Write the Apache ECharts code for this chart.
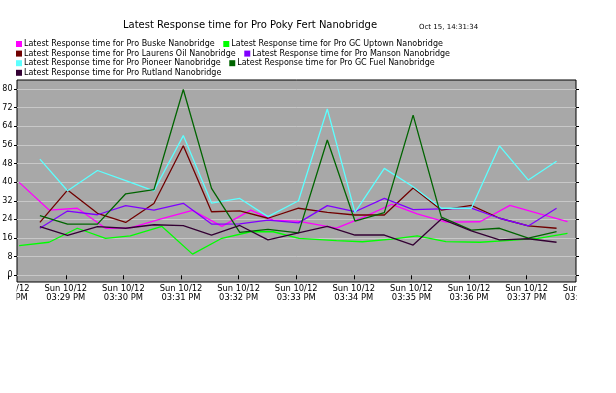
<!DOCTYPE html>
<html><head><meta charset="utf-8">
<script src="https://cdn.jsdelivr.net/npm/echarts@6/dist/echarts.min.js"></script>
<style>html,body{margin:0;padding:0;background:#fff}#c{width:616px;height:393px}</style>
</head><body><div id="c"></div>
<script>
const titleText = 'Latest Response time for Pro Poky Fert Nanobridge';
const dateText = 'Oct 15, 14:31:34';
const seriesNames = [
  'Latest Response time for Pro Buske Nanobridge',
  'Latest Response time for Pro GC Uptown Nanobridge',
  'Latest Response time for Pro Laurens Oil Nanobridge',
  'Latest Response time for Pro Manson Nanobridge',
  'Latest Response time for Pro Pioneer Nanobridge',
  'Latest Response time for Pro GC Fuel Nanobridge',
  'Latest Response time for Pro Rutland Nanobridge'
];
// sample times in minutes after 15:00 (03:xx PM)
const timesA = [28.19, 28.71, 29.2, 29.69, 30.12, 30.67, 31.2, 31.71, 32.21, 32.6, 33.05, 33.7, 34.15, 34.66, 35.1, 35.6, 36.19, 36.71, 37.2, 37.71];
const timesB = [28.55, 29.03, 29.55, 30.04, 30.53, 31.04, 31.53, 32.02, 32.51, 33.04, 33.54, 34.02, 34.53, 35.03, 35.52, 36.04, 36.53, 37.03, 37.52];
const buske   = [39.9, 28.0, 28.8, 20.2, 20.4, 24.3, 27.9, 21.0, 28.0, 23.7, 23.2, 20.3, 24.8, 30.5, 26.4, 22.8, 23.0, 30.0, 26.6, 23.0];
const uptown  = [12.7, 14.2, 20.2, 15.9, 16.9, 21.0, 9.1, 15.9, 18.7, 18.7, 15.9, 14.9, 14.4, 15.5, 16.9, 14.5, 14.2, 15.0, 15.9, 18.0];
const laurens = [22.7, 36.6, 26.6, 22.7, 30.8, 55.6, 27.3, 27.7, 24.5, 28.8, 27.0, 25.9, 25.9, 37.5, 28.0, 30.0, 24.5, 21.2, 20.2];
const manson  = [20.2, 27.6, 26.0, 29.9, 28.0, 30.9, 22.0, 22.1, 23.7, 22.5, 29.9, 27.3, 33.0, 28.2, 28.5, 28.8, 24.5, 21.2, 28.8];
const pioneer = [49.9, 36.3, 45.0, 40.7, 36.3, 60.0, 31.0, 33.0, 25.2, 32.0, 71.4, 27.0, 45.9, 38.0, 28.8, 28.8, 55.6, 40.9, 49.0];
const gcFuel  = [25.6, 22.0, 22.0, 35.0, 36.8, 79.8, 37.3, 18.4, 19.7, 18.2, 58.1, 23.3, 26.9, 68.8, 25.0, 19.4, 20.2, 16.0, 18.8];
const rutland = [20.9, 17.1, 20.9, 20.2, 21.7, 21.3, 17.3, 21.4, 15.2, 18.2, 21.0, 17.3, 17.3, 13.0, 24.2, 19.1, 15.2, 15.7, 14.2];
const tickMinutes = [28, 29, 30, 31, 32, 33, 34, 35, 36, 37, 38];
const tickLabels = ['Sun 10/12\n03:28 PM','Sun 10/12\n03:29 PM','Sun 10/12\n03:30 PM','Sun 10/12\n03:31 PM','Sun 10/12\n03:32 PM','Sun 10/12\n03:33 PM','Sun 10/12\n03:34 PM','Sun 10/12\n03:35 PM','Sun 10/12\n03:36 PM','Sun 10/12\n03:37 PM','Sun 10/12\n03:38 PM'];

const seriesValues = [buske, uptown, laurens, manson, pioneer, gcFuel, rutland];
const seriesTimes = [timesA, timesA, timesB, timesB, timesB, timesB, timesB];
const colors = ['#FF00FF', '#00FF00', '#700000', '#8000FF', '#5CFFFF', '#006400', '#330033'];
const FONT = '"DejaVu Sans", sans-serif';

const chart = echarts.init(document.getElementById('c'), null, {renderer: 'canvas'});
const option = {
  animation: false,
  backgroundColor: '#ffffff',
  color: colors,
  title: [
    {text: titleText, left: 250, top: 20, textAlign: 'center', padding: 0,
     textStyle: {fontFamily: FONT, fontSize: 10, fontWeight: 'normal', color: '#000'}},
    {text: dateText, left: 419, top: 24, padding: 0,
     textStyle: {fontFamily: FONT, fontSize: 7, fontWeight: 'normal', color: '#000'}}
  ],
  legend: {
    data: seriesNames, left: 16, top: 40, width: 470, padding: 0,
    icon: 'rect', itemWidth: 6, itemHeight: 6, itemGap: 1.6,
    textStyle: {fontFamily: FONT, fontSize: 8, color: '#000', lineHeight: 8, padding: [0, 7, 0, -3]}
  },
  grid: [
    {left: 17, top: 80, width: 559, height: 202, show: true, backgroundColor: '#A8A8A8',
     borderColor: '#000', borderWidth: 1, outerBoundsMode: 'none', containLabel: false},
    {left: 17, top: 89, width: 559, height: 186.3, outerBoundsMode: 'none', containLabel: false},
    {left: 8.2, top: 89, width: 576, height: 193, outerBoundsMode: 'none', containLabel: false}
  ],
  xAxis: [
    {gridIndex: 0, type: 'value', min: 0, max: 1, show: false},
    {gridIndex: 1, type: 'value', min: 0, max: 1, show: false},
    {gridIndex: 2, type: 'value', min: 28, max: 38, interval: 1, position: 'bottom',
     axisLine: {show: false},
     axisTick: {show: true, length: 4, inside: false, lineStyle: {color: '#000'}},
     splitLine: {show: false},
     axisLabel: {show: true, margin: 2, fontFamily: FONT, fontSize: 8.4, color: '#000', lineHeight: 9.5,
       showMinLabel: true, showMaxLabel: true,
       formatter: v => { const i = tickMinutes.indexOf(Math.round(v)); return i >= 0 ? tickLabels[i] : ''; }}}
  ],
  yAxis: [
    {gridIndex: 0, type: 'value', min: 0, max: 1, show: false},
    {gridIndex: 1, type: 'value', min: 0, max: 80, interval: 8, position: 'left',
     axisLine: {show: false},
     axisTick: {show: true, length: 3, inside: false, lineStyle: {color: '#000'}},
     splitLine: {show: true, lineStyle: {color: '#C8C8C8', width: 1}},
     axisLabel: {margin: 4.5, fontFamily: FONT, fontSize: 8, color: '#000'}},
    {gridIndex: 1, type: 'value', min: 0, max: 80, interval: 8, position: 'right',
     axisLine: {show: false},
     axisTick: {show: true, length: 3, inside: false, lineStyle: {color: '#000'}},
     splitLine: {show: false}, axisLabel: {show: false}},
    {gridIndex: 2, type: 'value', min: -2.876, max: 80, show: false}
  ],
  graphic: [
    {type: 'rect', z: 100, shape: {x: 0, y: 282.5, width: 16.5, height: 40}, style: {fill: '#fff'}},
    {type: 'rect', z: 100, shape: {x: 576.5, y: 282.5, width: 40, height: 40}, style: {fill: '#fff'}},
    {type: 'rect', z: 100, shape: {x: 580.5, y: 262, width: 36, height: 22}, style: {fill: '#fff'}}
  ],
  series: seriesNames.map((name, k) => ({
    name: name, type: 'line', xAxisIndex: 2, yAxisIndex: 3,
    data: seriesTimes[k].map((t, i) => [t, seriesValues[k][i]]),
    showSymbol: false, symbol: 'none', clip: true,
    lineStyle: {width: 1.3, color: colors[k]}, itemStyle: {color: colors[k]}
  }))
};
chart.setOption(option);
</script></body></html>
